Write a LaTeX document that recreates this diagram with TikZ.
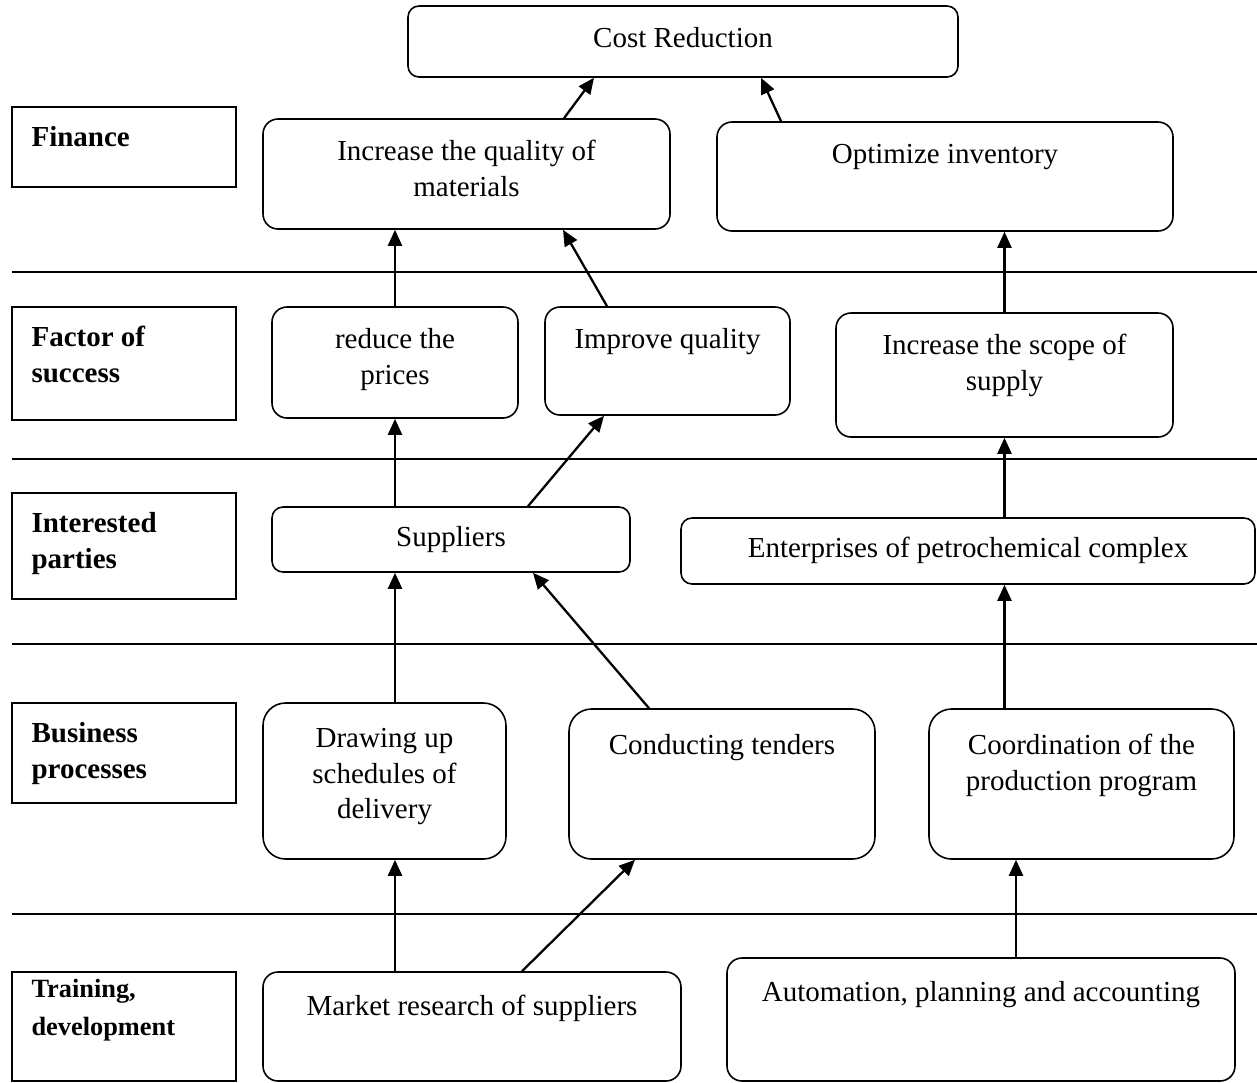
\documentclass[tikz,border=0pt]{standalone}
\usepackage{fontspec}
\setmainfont{Liberation Serif}
\usetikzlibrary{arrows.meta}

\tikzset{
  stage/.style={draw, line width=0.9pt, rounded corners=0.3cm, inner sep=0pt},
  level/.style={draw, line width=0.9pt, inner sep=0pt},
  stxt/.style={anchor=base, yshift=-0.84cm, align=center, inner sep=0pt,
    font=\fontsize{16.5}{20.4}\selectfont},
  ltxt/.style={anchor=base west, xshift=0.4cm, yshift=-0.8cm, align=left, inner sep=0pt,
    font=\fontsize{16.5}{20.4}\selectfont\bfseries},
  twolines/.style={yshift=-20.4pt},
  threelines/.style={yshift=-40.8pt},
  flow/.style={->, line width=1.3pt},
  sep/.style={line width=0.9pt},
}

\begin{document}
\begin{tikzpicture}[>={Triangle[length=0.32cm,width=0.28cm]}]
            \useasboundingbox (0,0) rectangle (25.14,-21.64);

            % separators between the rows
            \foreach \y in {-5.44,-9.18,-12.88,-18.28}
              \draw[sep] (0.24,\y) -- (25.14,\y);

            % row titles
            \node[level, minimum width=4.48cm, minimum height=1.6cm,
              label={[ltxt]north west:Finance}] (fin) at (2.48,-2.94) {};
            \node[level, minimum width=4.48cm, minimum height=2.26cm,
              label={[ltxt, twolines]north west:{Factor of\\success}}] (fac) at (2.48,-7.27) {};
            \node[level, minimum width=4.48cm, minimum height=2.12cm,
              label={[ltxt, twolines]north west:{Interested\\parties}}] (intp) at (2.48,-10.92) {};
            \node[level, minimum width=4.48cm, minimum height=2.0cm,
              label={[ltxt, twolines]north west:{Business\\processes}}] (bus) at (2.48,-15.06) {};
            \node[level, minimum width=4.48cm, minimum height=2.18cm,
              label={[ltxt, yshift=0.28cm, yshift=-21.5pt, font=\fontsize{15}{21.5}\selectfont\bfseries]north west:{Training,\\development}}] (trn) at (2.48,-20.53) {};

            % finance
            \node[stage, rounded corners=0.22cm, minimum width=11cm, minimum height=1.42cm,
              label={[stxt]north:Cost Reduction}] (cost) at (13.66,-0.83) {};
            \node[stage, minimum width=8.14cm, minimum height=2.2cm,
              label={[stxt, twolines]north:{Increase the quality of\\materials}}] (incq) at (9.33,-3.48) {};
            \node[stage, minimum width=9.12cm, minimum height=2.18cm,
              label={[stxt]north:Optimize inventory}] (opt) at (18.9,-3.53) {};

            % factor of success
            \node[stage, minimum width=4.92cm, minimum height=2.22cm,
              label={[stxt, twolines]north:{reduce the\\prices}}] (redp) at (7.9,-7.25) {};
            \node[stage, minimum width=4.9cm, minimum height=2.16cm,
              label={[stxt]north:Improve quality}] (impq) at (13.35,-7.22) {};
            \node[stage, minimum width=6.74cm, minimum height=2.48cm,
              label={[stxt, twolines]north:{Increase the scope of\\supply}}] (scope) at (20.09,-7.5) {};

            % interested parties
            \node[stage, rounded corners=0.22cm, minimum width=7.16cm, minimum height=1.3cm,
              label={[stxt, yshift=0.04cm]north:Suppliers}] (sup) at (9.02,-10.79) {};
            \node[stage, rounded corners=0.22cm, minimum width=11.48cm, minimum height=1.32cm,
              label={[stxt, yshift=0.04cm]north:Enterprises of petrochemical complex}] (ent) at (19.36,-11.02) {};

            % business processes
            \node[stage, rounded corners=0.45cm, minimum width=4.86cm, minimum height=3.12cm,
              label={[stxt, threelines, yshift=-0.06cm]north:{Drawing up\\schedules of\\delivery}}] (drw) at (7.69,-15.62) {};
            \node[stage, rounded corners=0.45cm, minimum width=6.12cm, minimum height=3.0cm,
              label={[stxt, yshift=-0.08cm]north:Conducting tenders}] (cond) at (14.44,-15.68) {};
            \node[stage, rounded corners=0.45cm, minimum width=6.1cm, minimum height=3.0cm,
              label={[stxt, twolines, yshift=-0.08cm]north:{Coordination of the\\production program}}] (coord) at (21.63,-15.68) {};

            % training, development
            \node[stage, minimum width=8.36cm, minimum height=2.18cm,
              label={[stxt, yshift=-0.04cm]north:Market research of suppliers}] (mkt) at (9.44,-20.53) {};
            \node[stage, minimum width=10.16cm, minimum height=2.46cm,
              label={[stxt, yshift=-0.04cm]north:{Automation, planning and accounting}}] (auto) at (19.62,-20.39) {};

            % links
            \draw[flow] ([xshift=1.95cm]incq.north) -- ([xshift=-1.78cm]cost.south);
            \draw[flow] ([xshift=-3.28cm]opt.north) -- ([xshift=1.56cm]cost.south);
            \draw[flow] (redp.north) -- (redp.north |- incq.south);
            \draw[flow] ([xshift=-1.21cm]impq.north) -- ([xshift=1.93cm]incq.south);
            \draw[flow] (scope.north) -- (scope.north |- opt.south);
            \draw[flow] (redp.south |- sup.north) -- (redp.south);
            \draw[flow] ([xshift=1.54cm]sup.north) -- ([xshift=-1.27cm]impq.south);
            \draw[flow] (scope.south |- ent.north) -- (scope.south);
            \draw[flow] (redp.south |- drw.north) -- (redp.south |- sup.south);
            \draw[flow] ([xshift=-1.46cm]cond.north) -- ([xshift=1.64cm]sup.south);
            \draw[flow] (scope.south |- coord.north) -- (scope.south |- ent.south);
            \draw[flow] (redp.south |- mkt.north) -- (redp.south |- drw.south);
            \draw[flow] ([xshift=1cm]mkt.north) -- ([xshift=-1.74cm]cond.south);
            \draw[flow] ([xshift=0.7cm]auto.north) -- ([xshift=0.7cm]auto.north |- coord.south);
\end{tikzpicture}
\end{document}
